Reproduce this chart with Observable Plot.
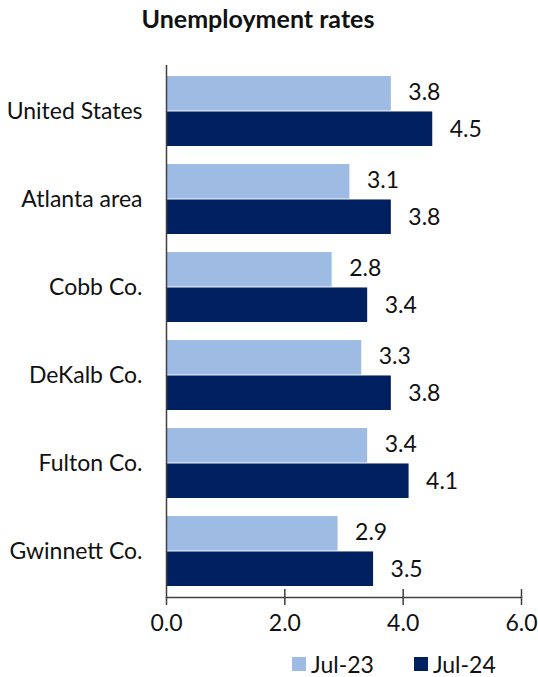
<!DOCTYPE html>
<html>
<head>
<meta charset="utf-8">
<script src="https://cdn.jsdelivr.net/npm/d3@7"></script>
<script src="https://cdn.jsdelivr.net/npm/@observablehq/plot@0.6"></script>
<style>
  body { margin: 0; background: #fff; font-family: Lato, "Noto Sans", sans-serif; color: #111; }
  #title { width: 516px; height: 44px; box-sizing: border-box; padding-top: 4px; text-align: center; font-weight: bold; font-size: 25px; line-height: 28px; }
  #legend { display: flex; align-items: center; padding-left: 292px; height: 30px; margin-top: 5px; font-size: 23px; }
  .sw { width: 14px; height: 14px; margin-right: 5px; }
  .item { display: flex; align-items: center; margin-right: 40px; }
</style>
</head>
<body>
<div id="title">Unemployment rates</div>
<div id="chart"></div>
<div id="legend"></div>
<script>
const regions = ["United States", "Atlanta area", "Cobb Co.", "DeKalb Co.", "Fulton Co.", "Gwinnett Co."];
const jul23 = [3.8, 3.1, 2.8, 3.3, 3.4, 2.9];
const jul24 = [4.5, 3.8, 3.4, 3.8, 4.1, 3.5];
const series = ["Jul-23", "Jul-24"];
const colors = ["#9dbbe3", "#002060"];
const xTicks = [0, 2, 4, 6];

const width = 538, height = 600;
const marginTop = 21, marginBottom = 47, marginLeft = 166, marginRight = 17;
const paddingInner = 0.2, paddingOuter = 0.1;
const plotH = height - marginTop - marginBottom;
const step = plotH / (regions.length - paddingInner + 2 * paddingOuter);
const half = step * (1 - paddingInner) / 2;

const d23 = regions.map((r, i) => ({region: r, value: jul23[i], series: series[0]}));
const d24 = regions.map((r, i) => ({region: r, value: jul24[i], series: series[1]}));

const fs = "23px";
const chart = Plot.plot({
  width, height, marginTop, marginBottom, marginLeft, marginRight,
  style: {fontFamily: "Lato, 'Noto Sans', sans-serif", fontSize: fs, color: "#111", background: "#fff"},
  x: {domain: [0, 6]},
  y: {domain: regions, paddingInner, paddingOuter},
  color: {domain: series, range: colors},
  marks: [
    Plot.barX(d23, {x: "value", y: "region", fill: "series", insetBottom: half}),
    Plot.barX(d24, {x: "value", y: "region", fill: "series", insetTop: half}),
    Plot.text(d23, {x: "value", y: "region", text: d => d.value.toFixed(1), dx: 17, dy: -19, textAnchor: "start", fontSize: fs, fill: "#111"}),
    Plot.text(d24, {x: "value", y: "region", text: d => d.value.toFixed(1), dx: 17, dy: 18, textAnchor: "start", fontSize: fs, fill: "#111"}),
    Plot.ruleX([0], {stroke: "#404040", strokeWidth: 1.5, insetBottom: -8}),
    Plot.frame({anchor: "bottom", stroke: "#404040", strokeWidth: 1.5}),
    Plot.gridX(xTicks.slice(1), {stroke: "#404040", strokeOpacity: 1, strokeWidth: 1.5, insetTop: plotH - 8, insetBottom: -8}),
    Plot.axisX(xTicks, {tickSize: 0, tickPadding: 17, tickFormat: d => d.toFixed(1), fontSize: fs, label: null}),
    Plot.axisY({tickSize: 0, tickPadding: 24, fontSize: fs, label: null})
  ]
});
document.getElementById("chart").appendChild(chart);

const legend = document.getElementById("legend");
series.forEach((s, i) => {
  const item = document.createElement("div");
  item.className = "item";
  const sw = document.createElement("div");
  sw.className = "sw";
  sw.style.background = colors[i];
  const t = document.createElement("span");
  t.textContent = s;
  item.appendChild(sw); item.appendChild(t);
  legend.appendChild(item);
});
</script>
</body>
</html>
